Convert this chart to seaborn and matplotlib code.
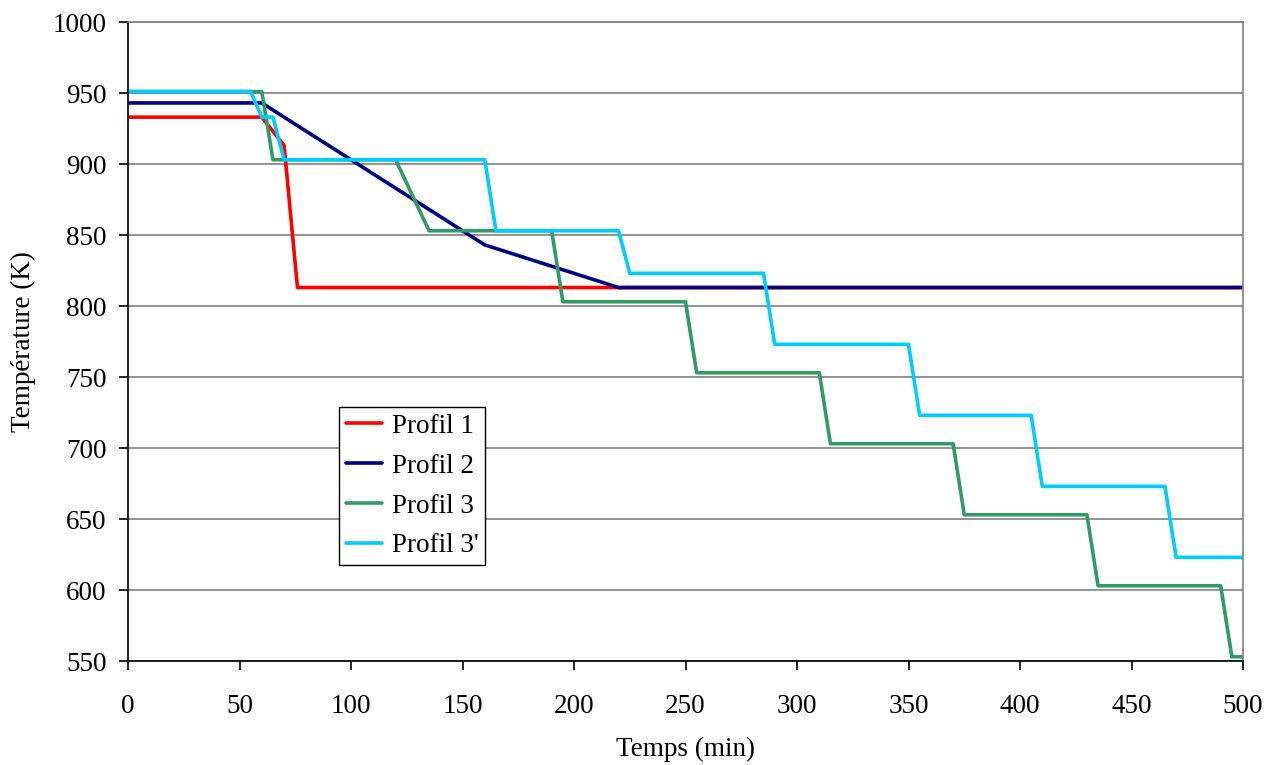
import matplotlib
matplotlib.use("Agg")
import matplotlib.pyplot as plt
import seaborn as sns
import pandas as pd

# Data (time in min, temperature in K)
p1_t = [0, 60, 70, 76, 220, 500]
p1_T = [933, 933, 913, 813, 813, 813]

p2_t = [0, 60, 160, 220, 500]
p2_T = [943, 943, 843, 813, 813]

p3_t = [0, 60, 65, 120, 135, 190, 195, 250, 255, 310, 315, 370, 375, 430, 435, 490, 495, 500]
p3_T = [951, 951, 903, 903, 853, 853, 803, 803, 753, 753, 703, 703, 653, 653, 603, 603, 553, 553]

p3b_t = [0, 55, 60, 65, 70, 160, 165, 220, 225, 285, 290, 350, 355, 405, 410, 465, 470, 500]
p3b_T = [951, 951, 933, 933, 903, 903, 853, 853, 823, 823, 773, 773, 723, 723, 673, 673, 623, 623]

names = ["Profil 1", "Profil 2", "Profil 3", "Profil 3'"]
colors = ["#FF0000", "#000080", "#339966", "#00CCFF"]

frames = []
for name, t, T in zip(names, [p1_t, p2_t, p3_t, p3b_t], [p1_T, p2_T, p3_T, p3b_T]):
    frames.append(pd.DataFrame({"t": t, "T": T, "Profil": name}))
df = pd.concat(frames, ignore_index=True)

sns.set_style("white")
plt.rcParams['font.family'] = ['Liberation Serif', 'DejaVu Serif']
plt.rcParams['text.color'] = 'black'
plt.rcParams['axes.labelcolor'] = 'black'
FS = 19.5
plt.rcParams['font.size'] = FS

fig = plt.figure(figsize=(12.77, 7.65), dpi=100)
ax = fig.add_axes([128/1277, 1 - 661/765, (1243-128)/1277, (661-22)/765])

sns.lineplot(data=df, x="t", y="T", hue="Profil", hue_order=names,
             palette=dict(zip(names, colors)), sort=False, estimator=None,
             linewidth=2.6, ax=ax, legend=True)

ax.set_xlim(0, 500)
ax.set_ylim(550, 1000)
ax.set_xticks(range(0, 501, 50))
ax.set_yticks(range(550, 1001, 50))
ax.yaxis.grid(True, color="#808080", linewidth=1.2)
ax.xaxis.grid(False)
ax.set_axisbelow(True)

for s in ["left", "bottom"]:
    ax.spines[s].set_color("black")
    ax.spines[s].set_linewidth(1.2)
for s in ["top", "right"]:
    ax.spines[s].set_color("#808080")
    ax.spines[s].set_linewidth(1.2)

ax.tick_params(axis="both", which="both", direction="out", length=6.5, width=1.2,
               colors="black", labelsize=FS)
ax.tick_params(axis="x", bottom=True, pad=17)
ax.tick_params(axis="y", left=True, pad=9)

ax.set_xlabel("Temps (min)", fontsize=FS, labelpad=13, color="black")
ax.set_ylabel("Température (K)", fontsize=FS, labelpad=12, color="black")

handles, labels = ax.get_legend_handles_labels()
leg = ax.legend(handles, labels, loc="upper left", bbox_to_anchor=(0.189, 0.3975),
                frameon=True, fancybox=False, edgecolor="black", framealpha=1,
                fontsize=FS, handlelength=1.35, handletextpad=0.35,
                borderpad=0.25, labelspacing=0.55, borderaxespad=0)
leg.get_frame().set_linewidth(1.0)
for line in leg.get_lines():
    line.set_linewidth(2.6)
for txt in leg.get_texts():
    txt.set_color("black")

fig.savefig("out.png", dpi=100)
